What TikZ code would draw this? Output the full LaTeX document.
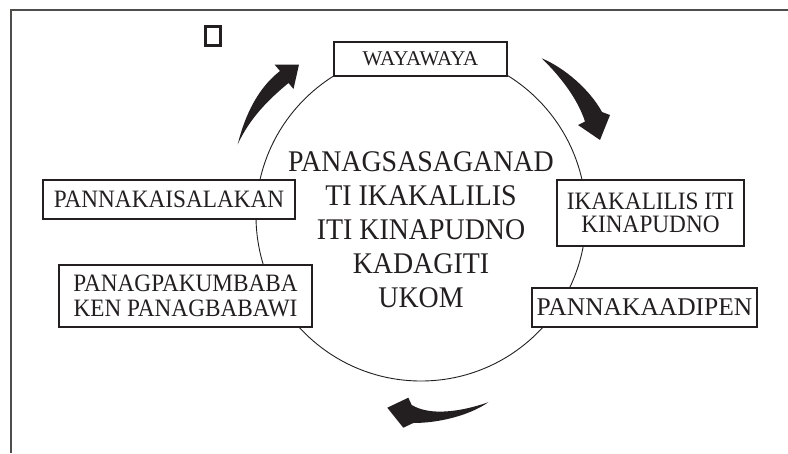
\documentclass[tikz,border=0pt]{standalone}
\usepackage{fontspec}
\setmainfont{Liberation Serif}
\newfontfamily\narrowserif[FakeStretch=0.93]{Liberation Serif}
\definecolor{ink}{HTML}{231F20}
\begin{document}
\begin{tikzpicture}[x=1pt,y=-1pt,
  box/.style={draw=ink, line width=1.2pt, fill=white, inner sep=0pt, align=center, text=ink},
  arrowshape/.style={fill=ink, draw=none}]
\useasboundingbox (0,0) rectangle (788,453);
% frame
\draw[ink!80, line width=1.3pt] (11,453) -- (11,10) -- (788,10);
% small square
\node[draw=ink, line width=3pt, minimum width=15pt, minimum height=19pt, inner sep=0pt] (sq) at (213,36) {};
% circle
\draw[ink, line width=0.9pt] (421,216) circle[radius=165pt];
% centre text
\node[align=center, inner sep=0pt, text=ink, font=\narrowserif\fontsize{30}{34}\selectfont] (centre) at (421,230)
  {PANAGSASAGANAD\\TI IKAKALILIS\\ITI KINAPUDNO\\KADAGITI\\UKOM};
% boxes
\node[box, minimum width=173pt, minimum height=34pt, font=\fontsize{21}{24}\selectfont] (way) at (420.5,59) {WAYAWAYA};
\node[box, minimum width=252pt, minimum height=39pt, font=\narrowserif\fontsize{25}{24}\selectfont] (isal) at (169,199.5) {PANNAKAISALAKAN};
\node[box, minimum width=187pt, minimum height=66pt, font=\narrowserif\fontsize{25}{23.5}\selectfont] (ikak) at (650.5,213) {IKAKALILIS ITI\\KINAPUDNO};
\node[box, minimum width=225pt, minimum height=39pt, font=\fontsize{25.5}{24}\selectfont] (adip) at (644.5,307.5) {PANNAKAADIPEN};
\node[box, minimum width=253pt, minimum height=62pt, font=\narrowserif\fontsize{25}{24.5}\selectfont] (kumb) at (185.5,296) {PANAGPAKUMBABA\\KEN PANAGBABAWI};
% arrows
\fill[arrowshape] (237.7,144.3) .. controls (245,115) and (258,88) .. (280,71)
  -- (274.5,64.5) -- (299,64.5) -- (293.5,89) -- (288.5,83)
  .. controls (268,100) and (250,118) .. (237.7,144.3) -- cycle;
\fill[arrowshape] (541.7,58.3) .. controls (565,68) and (590,90) .. (602,112)
  -- (610,115) -- (600,140) -- (578,125) -- (585,121.5)
  .. controls (578,100) and (562,78) .. (541.7,58.3) -- cycle;
\fill[arrowshape] (488.3,402.3) .. controls (460,412) and (430,416) .. (411.7,405)
  -- (408.3,397.7) -- (387.3,407.7) -- (403.3,427.7) -- (413.3,423)
  .. controls (440,423) and (470,415) .. (488.3,402.3) -- cycle;
\end{tikzpicture}
\end{document}
